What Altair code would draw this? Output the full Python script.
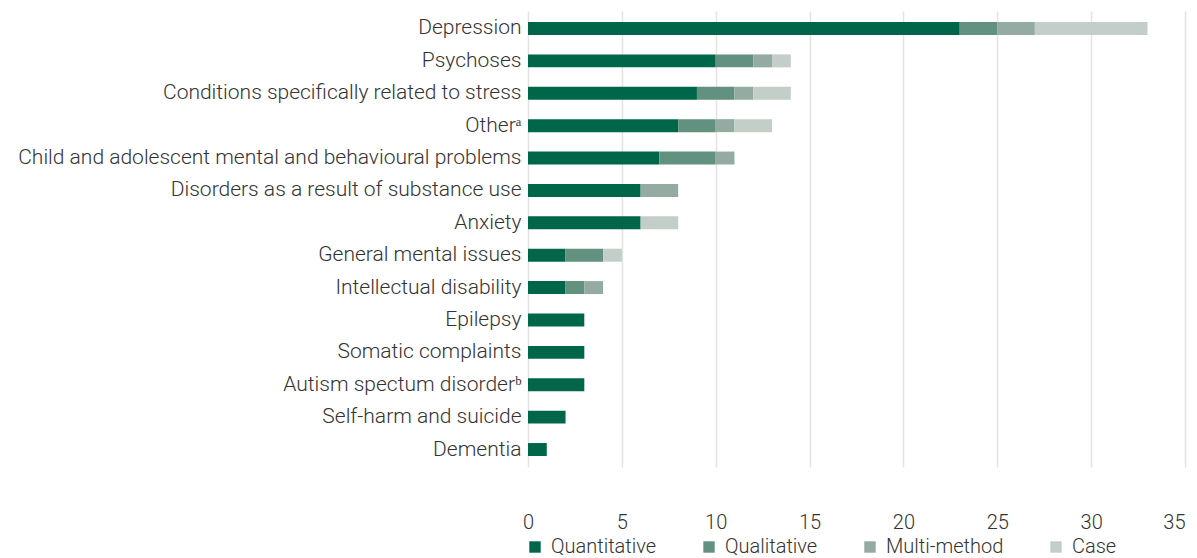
import altair as alt
import pandas as pd

categories = [
    "Depression",
    "Psychoses",
    "Conditions specifically related to stress",
    "Otherᵃ",
    "Child and adolescent mental and behavioural problems",
    "Disorders as a result of substance use",
    "Anxiety",
    "General mental issues",
    "Intellectual disability",
    "Epilepsy",
    "Somatic complaints",
    "Autism spectum disorderᵇ",
    "Self-harm and suicide",
    "Dementia",
]
methods = ["Quantitative", "Qualitative", "Multi-method", "Case"]
quantitative = [23, 10, 9, 8, 7, 6, 6, 2, 2, 3, 3, 3, 2, 1]
qualitative = [2, 2, 2, 2, 3, 0, 0, 2, 1, 0, 0, 0, 0, 0]
multi_method = [2, 1, 1, 1, 1, 2, 0, 0, 1, 0, 0, 0, 0, 0]
case = [6, 1, 2, 2, 0, 0, 2, 1, 0, 0, 0, 0, 0, 0]
colors = ["#00664a", "#63917f", "#93aba0", "#c2cec7"]
x_ticks = [0, 5, 10, 15, 20, 25, 30, 35]

rows = []
for i, cat in enumerate(categories):
    for j, (m, vals) in enumerate(zip(methods, [quantitative, qualitative, multi_method, case])):
        rows.append({"category": cat, "method": m, "order": j, "count": vals[i]})
df = pd.DataFrame(rows)

FONT = "Roboto"

chart = alt.Chart(df).mark_bar().encode(
    y=alt.Y("category:N", sort=categories, title=None,
            scale=alt.Scale(paddingInner=0.6, paddingOuter=0.34),
            axis=alt.Axis(labelFontSize=21, labelColor="#333333", labelFont=FONT,
                          labelFontWeight=300, ticks=False, domain=False,
                          labelPadding=7, labelLimit=0)),
    x=alt.X("sum(count):Q", title=None, stack="zero",
            scale=alt.Scale(domain=[0, 35], nice=False),
            axis=alt.Axis(values=x_ticks, labelFontSize=20, labelColor="#333333",
                          labelFont=FONT, labelFontWeight=300, ticks=False, domain=False,
                          gridColor="#e3e3e3", gridWidth=1.5, labelPadding=45,
                          labelFlush=False,
                          labelAlign=alt.expr("datum.value == 35 ? 'right' : 'center'"))),
    color=alt.Color("method:N", sort=methods,
                    scale=alt.Scale(domain=methods, range=colors),
                    legend=alt.Legend(title=None, orient="none", direction="horizontal",
                                      legendX=-3, legendY=526, symbolType="square",
                                      symbolSize=130, symbolStrokeWidth=0,
                                      labelFontSize=20, labelFont=FONT, labelFontWeight=300,
                                      labelColor="#333333", columnPadding=42,
                                      labelOffset=6, padding=0)),
    order=alt.Order("order:Q", sort="ascending"),
).properties(
    width=657, height=456,
    autosize=alt.AutoSizeParams(type="none"),
    padding={"left": 520, "top": 3, "right": 4, "bottom": 91},
).configure_view(stroke=None)

chart.save("out.html", embed_options={"renderer": "svg", "actions": False})
